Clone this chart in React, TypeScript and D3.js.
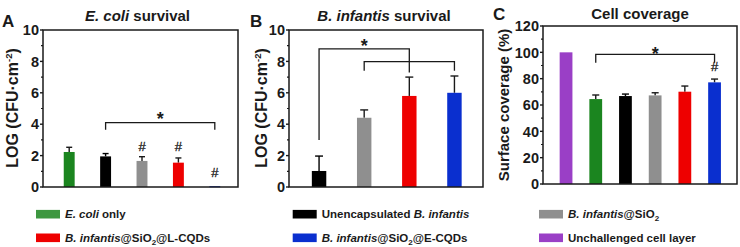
import React from 'react';
import * as d3 from 'd3';

// ---------- data ----------
const catsA = ['E. coli only', 'Unencapsulated', 'SiO2', 'SiO2@L-CQDs', 'SiO2@E-CQDs'];
const valsA = [2.23, 1.95, 1.66, 1.55, 0.05];
const errA = [0.3, 0.18, 0.27, 0.3, 0];
const hashA = [null, null, 2.6, 2.6, 0.9];

const catsB = ['Unencapsulated', 'SiO2', 'SiO2@L-CQDs', 'SiO2@E-CQDs'];
const valsB = [1.02, 4.41, 5.8, 6.0];
const errB = [0.95, 0.5, 1.2, 1.07];

const catsC = ['Unchallenged', 'E. coli only', 'Unencapsulated', 'SiO2', 'SiO2@L-CQDs', 'SiO2@E-CQDs'];
const valsC = [100, 64.5, 66.8, 67.3, 70.1, 77.2];
const errC = [0, 3.1, 1.5, 2.0, 4.3, 2.5];
const hashC = [null, null, null, null, null, 89];

const ticksA = [0, 2, 4, 6, 8, 10];
const ticksC = [0, 20, 40, 60, 80, 100, 120];

const colors: Record<string, string> = {
  'E. coli only': '#1b851f',
  Unencapsulated: '#000000',
  SiO2: '#8f8f8f',
  'SiO2@L-CQDs': '#ee0000',
  'SiO2@E-CQDs': '#0a2fcf',
  Unchallenged: '#9a3fc6',
};

const FONT = 'Liberation Sans, Arial, sans-serif';
const INK = '#1a1a1a';

type Bracket = { from: number; to: number; top: number; legL: number; legR: number };

type PanelProps = {
  frame: { x0: number; x1: number; y0: number; y1: number };
  domain: [number, number];
  ticks: number[];
  minorStep: number;
  cats: string[];
  vals: number[];
  errs: number[];
  hashes?: (number | null)[];
  band: [number, number];
  pad: number;
  brackets: Bracket[];
  stars: { between: [number, number]; y: number }[];
};

function Panel(p: PanelProps) {
  const { frame } = p;
  const y = d3.scaleLinear().domain(p.domain).range([frame.y1, frame.y0]);
  const x = d3
    .scaleBand<string>()
    .domain(p.cats)
    .range(p.band)
    .paddingInner(p.pad)
    .paddingOuter(p.pad / 2);
  const bw = x.bandwidth();
  const cx = (i: number) => (x(p.cats[i]) as number) + bw / 2;
  const minors = d3.range(p.domain[0], p.domain[1] + 1e-9, p.minorStep).filter((v) => !p.ticks.includes(v));
  const capW = bw * 0.55;
  return (
    <g>
      {p.cats.map((c, i) => (
        <g key={c}>
          {p.errs[i] > 0 && (
            <g stroke={colors[c] === '#000000' ? '#000' : INK} strokeWidth={1.4}>
              <line x1={cx(i)} x2={cx(i)} y1={y(p.vals[i])} y2={y(p.vals[i] + p.errs[i])} />
              <line x1={cx(i) - capW / 2} x2={cx(i) + capW / 2} y1={y(p.vals[i] + p.errs[i])} y2={y(p.vals[i] + p.errs[i])} />
            </g>
          )}
          <rect
            x={x(c)}
            width={bw}
            y={y(p.vals[i])}
            height={Math.max(1, y(p.domain[0]) - y(p.vals[i]))}
            fill={colors[c]}
          />
        </g>
      ))}
      {p.hashes &&
        p.hashes.map((h, i) =>
          h == null ? null : (
            <text key={'h' + i} x={cx(i)} y={y(h) + 4.5} textAnchor="middle" fontSize={13} fontFamily={FONT} fill={INK} stroke={INK} strokeWidth={0.3}>
              #
            </text>
          )
        )}
      {p.brackets.map((b, k) => (
        <path
          key={'b' + k}
          d={`M${cx(b.from)},${y(b.legL)}V${y(b.top)}H${cx(b.to)}V${y(b.legR)}`}
          fill="none"
          stroke={INK}
          strokeWidth={1.3}
        />
      ))}
      {p.stars.map((s, k) => (
        <text
          key={'s' + k}
          x={(cx(s.between[0]) + cx(s.between[1])) / 2}
          y={y(s.y) + 10}
          textAnchor="middle"
          fontSize={18}
          fontWeight="bold"
          fontFamily={FONT}
          fill={INK}
        >
          *
        </text>
      ))}
      <rect x={frame.x0} y={frame.y0} width={frame.x1 - frame.x0} height={frame.y1 - frame.y0} fill="none" stroke={INK} strokeWidth={1.5} />
      {p.ticks.map((t) => (
        <g key={'t' + t}>
          <line x1={frame.x0 - 3} x2={frame.x0} y1={y(t)} y2={y(t)} stroke={INK} strokeWidth={1.4} />
          <text
            x={frame.x0 - 4}
            y={y(t)}
            dy="0.36em"
            textAnchor="end"
            fontSize={14.5}
            fontWeight="bold"
            fontFamily={FONT}
            fill={INK}
          >
            {t}
          </text>
        </g>
      ))}
      {minors.map((t) => (
        <line key={'m' + t} x1={frame.x0 - 2} x2={frame.x0} y1={y(t)} y2={y(t)} stroke={INK} strokeWidth={1.2} />
      ))}
    </g>
  );
}

function Legend() {
  const cols = [36, 292.7, 539];
  const rows = [214.2, 237.8];
  const items: { key: string; col: number; row: number; label: React.ReactNode }[] = [
    { key: 'E. coli only', col: 0, row: 0, label: (<><tspan fontStyle="italic">E. coli</tspan> only</>) },
    {
      key: 'SiO2@L-CQDs', col: 0, row: 1,
      label: (<><tspan fontStyle="italic">B. infantis</tspan>@SiO<tspan fontSize={8} dy={3}>2</tspan><tspan dy={-3}>@L-CQDs</tspan></>),
    },
    { key: 'Unencapsulated', col: 1, row: 0, label: (<>Unencapsulated <tspan fontStyle="italic">B. infantis</tspan></>) },
    {
      key: 'SiO2@E-CQDs', col: 1, row: 1,
      label: (<><tspan fontStyle="italic">B. infantis</tspan>@SiO<tspan fontSize={8} dy={3}>2</tspan><tspan dy={-3}>@E-CQDs</tspan></>),
    },
    { key: 'SiO2', col: 2, row: 0, label: (<><tspan fontStyle="italic">B. infantis</tspan>@SiO<tspan fontSize={8} dy={3}>2</tspan></>) },
    { key: 'Unchallenged', col: 2, row: 1, label: <>Unchallenged cell layer</> },
  ];
  return (
    <g>
      {items.map((it) => (
        <g key={it.key}>
          <rect x={cols[it.col]} y={rows[it.row] - 4.3} width={24} height={8.6} fill={colors[it.key]} opacity={it.key === 'E. coli only' ? 0.85 : 1} />
          <text x={cols[it.col] + 29} y={rows[it.row]} dy="0.36em" fontSize={11.5} fontWeight="bold" fontFamily={FONT} fill={INK}>
            {it.label}
          </text>
        </g>
      ))}
    </g>
  );
}

export default function App() {
  const titleProps = { fontSize: 15, fontWeight: 'bold' as const, fontFamily: FONT, fill: INK };
  const yTitleProps = { fontSize: 16, fontWeight: 'bold' as const, fontFamily: FONT, fill: INK };
  const letterProps = { fontSize: 17, fontWeight: 'bold' as const, fontFamily: FONT, fill: INK };
  return (
    <div style={{ position: 'absolute', left: 0, top: 0 }}>
      <svg width={740} height={247} style={{ display: 'block', background: '#fff' }}>
        <Panel
          frame={{ x0: 43, x1: 238, y0: 30, y1: 187 }}
          domain={[0, 10]}
          ticks={ticksA}
          minorStep={1}
          cats={catsA}
          vals={valsA}
          errs={errA}
          hashes={hashA}
          band={[51, 233]}
          pad={0.7}
          brackets={[{ from: 1, to: 4, top: 4.1, legL: 3.65, legR: 3.65 }]}
          stars={[{ between: [1, 4], y: 4.6 }]}
        />
        <Panel
          frame={{ x0: 289, x1: 483, y0: 30, y1: 187 }}
          domain={[0, 10]}
          ticks={ticksA}
          minorStep={1}
          cats={catsB}
          vals={valsB}
          errs={errB}
          band={[296.5, 477]}
          pad={0.68}
          brackets={[
            { from: 0, to: 2, top: 8.8, legL: 3.0, legR: 7.3 },
            { from: 1, to: 3, top: 7.98, legL: 7.4, legR: 7.4 },
          ]}
          stars={[{ between: [0, 2], y: 9.25 }]}
        />
        <Panel
          frame={{ x0: 543, x1: 737, y0: 26, y1: 184 }}
          domain={[0, 120]}
          ticks={ticksC}
          minorStep={10}
          cats={catsC}
          vals={valsC}
          errs={errC}
          hashes={hashC}
          band={[551.2, 729.4]}
          pad={0.57}
          brackets={[{ from: 1, to: 5, top: 98.5, legL: 92, legR: 92 }]}
          stars={[{ between: [1, 5], y: 102 }]}
        />
        {/* panel letters */}
        <text x={2} y={27} {...letterProps}>A</text>
        <text x={250} y={27} {...letterProps}>B</text>
        <text x={493} y={20} {...letterProps}>C</text>
        {/* titles */}
        <text x={137.5} y={20.5} textAnchor="middle" {...titleProps}>
          <tspan fontStyle="italic">E. coli</tspan> survival
        </text>
        <text x={384} y={20.5} textAnchor="middle" {...titleProps}>
          <tspan fontStyle="italic">B. infantis</tspan> survival
        </text>
        <text x={640} y={18.5} textAnchor="middle" {...titleProps}>
          Cell coverage
        </text>
        {/* y titles */}
        <text transform="translate(17.5,108) rotate(-90)" textAnchor="middle" {...yTitleProps}>
          LOG (CFU·cm<tspan fontSize={9.5} dy={-6}>-2</tspan><tspan dy={6}>)</tspan>
        </text>
        <text transform="translate(266.5,108) rotate(-90)" textAnchor="middle" {...yTitleProps}>
          LOG (CFU·cm<tspan fontSize={9.5} dy={-6}>-2</tspan><tspan dy={6}>)</tspan>
        </text>
        <text transform="translate(508.5,105) rotate(-90)" textAnchor="middle" {...titleProps}>
          Surface coverage (%)
        </text>
        <Legend />
      </svg>
    </div>
  );
}
